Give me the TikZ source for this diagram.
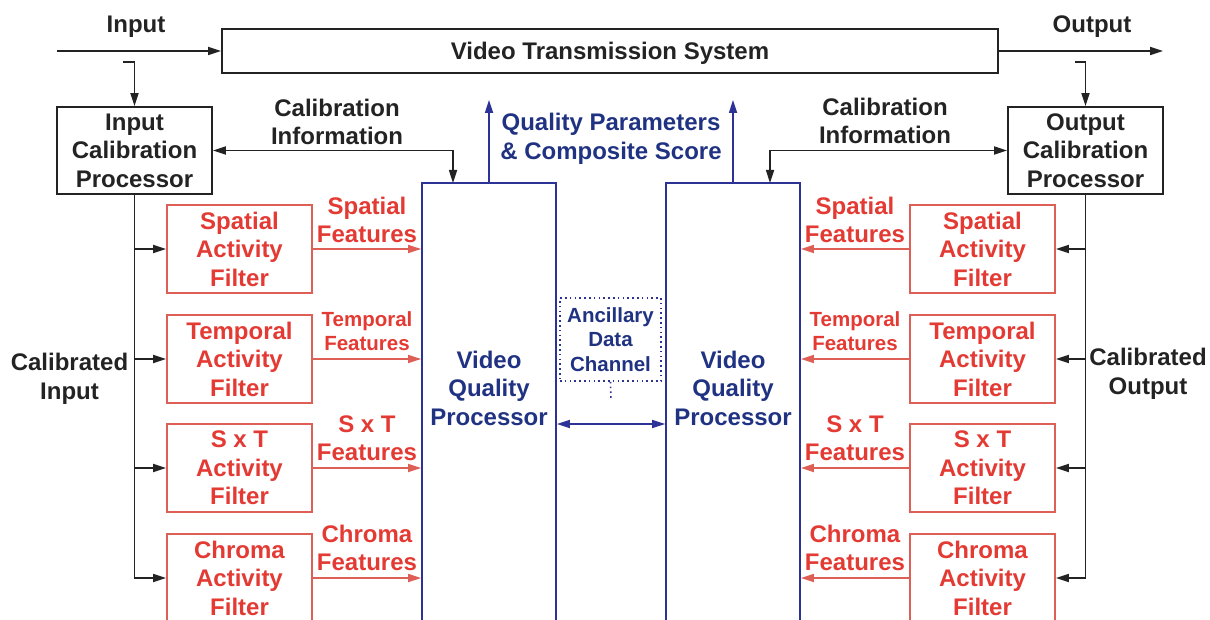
\documentclass[tikz,border=0pt]{standalone}
\usepackage{fontspec}
\setmainfont{Liberation Sans}
\usetikzlibrary{arrows.meta}
\definecolor{ink}{RGB}{35,35,35}
\definecolor{rtext}{RGB}{228,58,52}
\definecolor{rline}{RGB}{222,95,85}
\definecolor{btext}{RGB}{32,50,130}
\definecolor{bline}{RGB}{45,50,150}
\newcommand\bigbf{\fontsize{24}{28.5}\selectfont\bfseries}
\newcommand\smallbf{\fontsize{20.5}{24.5}\selectfont\bfseries}
\begin{document}
\begin{tikzpicture}[x=1pt,y=-1pt,
  every node/.style={inner sep=0pt},
  bbox/.style={draw=ink, line width=1.7pt, fill=white, font=\bigbf, text=ink, align=center},
  fbox/.style={draw=rline, line width=1.7pt, fill=white, font=\bigbf, text=rtext, align=center, minimum width=145pt, minimum height=88pt},
  vbox/.style={draw=bline, line width=1.6pt, minimum width=134pt, minimum height=442pt},
  ktxt/.style={font=\bigbf, text=ink, align=center},
  rtxt/.style={font=\bigbf, text=rtext, align=center},
  rstxt/.style={font=\smallbf, text=rtext, align=center},
  btxt/.style={font=\bigbf, text=btext, align=center},
  karr/.style={draw=ink, line width=1.7pt, -{Triangle[length=13pt,width=8pt]}},
  karrb/.style={draw=ink, line width=1.7pt, {Triangle[length=13pt,width=8pt]}-{Triangle[length=13pt,width=8pt]}},
  rarr/.style={draw=rline, line width=1.7pt, -{Triangle[length=13pt,width=8pt]}},
  barr/.style={draw=bline, line width=1.7pt, -{Triangle[length=13pt,width=8pt]}},
  barrb/.style={draw=bline, line width=1.7pt, {Triangle[length=13pt,width=8pt]}-{Triangle[length=13pt,width=8pt]}},
]
\clip (0,0) rectangle (1210,620);
\useasboundingbox (0,0) rectangle (1210,620);

% top
\node[bbox, minimum width=776pt, minimum height=44pt, text depth=0pt] (vts) at (610,51) {Video Transmission System};
\node[ktxt, text depth=0pt] (lin) at (136,24) {Input};
\node[ktxt, text depth=0pt] (lout) at (1092,24) {Output};
\coordinate (inS) at (57,51);
\coordinate (outE) at (1163,51);
\draw[karr] (inS) -- (vts.west);
\draw[karr] (vts.east) -- (outE);

% calibration processors
\node[bbox, minimum width=155pt, minimum height=87pt] (icpIn) at (134.5,150.5) {Input\\Calibration\\Processor};
\node[bbox, minimum width=155pt, minimum height=87pt] (icpOut) at (1085.5,150.5) {Output\\Calibration\\Processor};
\coordinate (tapIn) at (123,62);
\coordinate (tapOut) at (1075,62);
\draw[karr] (tapIn) -| (icpIn.north);
\draw[karr] (tapOut) -| (icpOut.north);

% video quality processors
\node[vbox] (vqpL) at (489,404) {};
\node[vbox] (vqpR) at (733,404) {};
\node[btxt] (vqpLt) at (489,388) {Video\\Quality\\Processor};
\node[btxt] (vqpRt) at (733,388) {Video\\Quality\\Processor};

% calibration information
\node[ktxt] (ciL) at (337,122) {Calibration\\Information};
\node[ktxt] (ciR) at (885,121) {Calibration\\Information};
\coordinate (cinL) at (453,183);
\coordinate (cinR) at (770,183);
\draw[karrb] (icpIn.east) -| (cinL);
\draw[karrb] (cinR) |- (icpOut.west);

% quality parameters
\node[btxt] (qp) at (611,139) {Quality Parameters\\\& Composite Score};
\coordinate (qL) at (489,100);
\coordinate (qR) at (733,100);
\draw[barr] (vqpL.north) -- (qL);
\draw[barr] (vqpR.north) -- (qR);

% ancillary data channel
\node[draw=bline, dash pattern=on 1.6pt off 3.2pt, line width=1.6pt, minimum width=101pt, minimum height=83pt, font=\smallbf, text=btext, align=center] (anc) at (610.5,339.5) {Ancillary\\Data\\Channel};
\coordinate (ancE) at (611,400);
\draw[bline, dash pattern=on 1.6pt off 3.2pt, line width=1.6pt] (anc.south) -- (ancE);
\coordinate (dc) at (611,424);
\draw[barrb] (dc -| vqpL.east) -- (dc -| vqpR.west);

% left filters
\node[fbox] (fS) at (239.5,249) {Spatial\\Activity\\Filter};
\node[fbox] (fT) at (239.5,359) {Temporal\\Activity\\Filter};
\node[fbox] (fX) at (239.5,468) {S x T\\Activity\\Filter};
\node[fbox] (fC) at (239.5,578) {Chroma\\Activity\\Filter};
% right filters
\node[fbox] (gS) at (982.5,249) {Spatial\\Activity\\Filter};
\node[fbox] (gT) at (982.5,359) {Temporal\\Activity\\Filter};
\node[fbox] (gX) at (982.5,468) {S x T\\Activity\\Filter};
\node[fbox] (gC) at (982.5,578) {Chroma\\Activity\\Filter};

% buses
\draw[karr] (icpIn.south) |- (fC.west);
\draw[karr] (icpIn.south |- fS.west) -- (fS.west);
\draw[karr] (icpIn.south |- fT.west) -- (fT.west);
\draw[karr] (icpIn.south |- fX.west) -- (fX.west);
\draw[karr] (icpOut.south) |- (gC.east);
\draw[karr] (icpOut.south |- gS.east) -- (gS.east);
\draw[karr] (icpOut.south |- gT.east) -- (gT.east);
\draw[karr] (icpOut.south |- gX.east) -- (gX.east);

\node[ktxt] (calIn) at (69.5,379) {Calibrated\\Input};
\node[ktxt] (calOut) at (1148,374) {Calibrated\\Output};

% feature arrows
\draw[rarr] (fS.east) -- (fS.east -| vqpL.west);
\draw[rarr] (fT.east) -- (fT.east -| vqpL.west);
\draw[rarr] (fX.east) -- (fX.east -| vqpL.west);
\draw[rarr] (fC.east) -- (fC.east -| vqpL.west);
\draw[rarr] (gS.west) -- (gS.west -| vqpR.east);
\draw[rarr] (gT.west) -- (gT.west -| vqpR.east);
\draw[rarr] (gX.west) -- (gX.west -| vqpR.east);
\draw[rarr] (gC.west) -- (gC.west -| vqpR.east);

\node[rtxt] (lS) at (367,220) {Spatial\\Features};
\node[rstxt] (lT) at (367,331) {Temporal\\Features};
\node[rtxt] (lX) at (367,438) {S x T\\Features};
\node[rtxt] (lC) at (367,548) {Chroma\\Features};
\node[rtxt] (rS) at (855,220) {Spatial\\Features};
\node[rstxt] (rT) at (855,331) {Temporal\\Features};
\node[rtxt] (rX) at (855,438) {S x T\\Features};
\node[rtxt] (rC) at (855,548) {Chroma\\Features};
\end{tikzpicture}
\end{document}
